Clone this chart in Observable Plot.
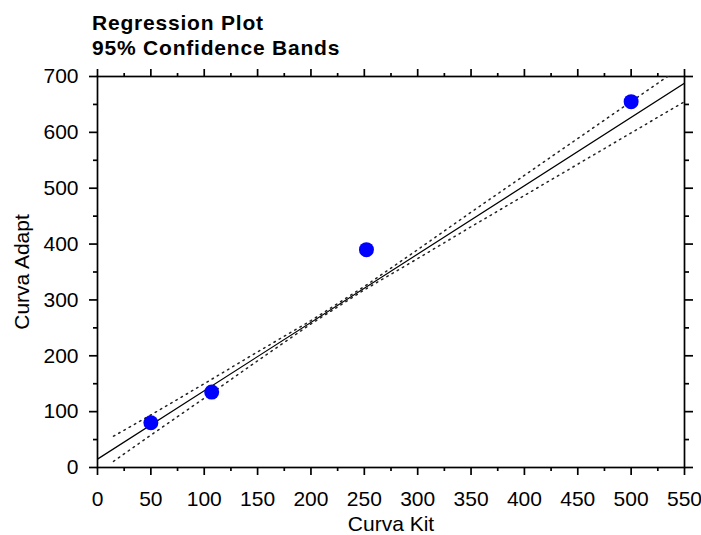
<!DOCTYPE html>
<html>
<head>
<meta charset="utf-8">
<script src="https://cdn.jsdelivr.net/npm/d3@7"></script>
<script src="https://cdn.jsdelivr.net/npm/@observablehq/plot@0.6"></script>
<style>
  html, body { margin: 0; padding: 0; background: #fff; }
  #title {
    box-sizing: border-box; height: 58px; padding: 10px 0 0 92px;
    font-family: "Liberation Sans", Arial, sans-serif; font-weight: bold;
    font-size: 21px; line-height: 25px; letter-spacing: 0.8px; color: #000;
  }
</style>
</head>
<body>
<div id="title">Regression Plot<br>95% Confidence Bands</div>
<div id="chart"></div>
<script>
// tick labels / tick positions
const xMajor = [0, 50, 100, 150, 200, 250, 300, 350, 400, 450, 500, 550];
const xMinor = [25, 75, 125, 175, 225, 275, 325, 375, 425, 475, 525];
const yMajor = [0, 100, 200, 300, 400, 500, 600, 700];
const yMinor = [50, 150, 250, 350, 450, 550, 650];

// observed points
const curvaKit = [50, 107, 252, 500];
const curvaAdapt = [80, 135, 390, 655];

// regression line (read endpoints)
const fitX = [0, 550];
const fitY = [15, 688];

// 95% confidence bands
const bandX = [15, 50, 100, 150, 200, 250, 300, 350, 400, 450, 500, 550];
const bandUpper = [56, 94, 150, 207, 263, 324, 390, 457, 523, 589, 655, 721];
const bandLower = [11, 58, 124, 191, 257, 318, 374, 431, 487, 543, 599, 655];

const points = curvaKit.map((k, i) => ({x: k, y: curvaAdapt[i]}));
const fit = fitX.map((k, i) => ({x: k, y: fitY[i]}));
const upper = bandX.map((k, i) => ({x: k, y: bandUpper[i]}));
const lower = bandX.map((k, i) => ({x: k, y: bandLower[i]}));

const blank = () => "";
const axisStyle = {stroke: "black", strokeWidth: 1.7, label: null};

const chart = Plot.plot({
  width: 701,
  height: 477,
  marginTop: 18,
  marginBottom: 68,
  marginLeft: 97,
  marginRight: 17,
  style: {fontFamily: "'Liberation Sans', Arial, sans-serif", fontSize: "21px", background: "white", color: "black"},
  x: {domain: [0, 550]},
  y: {domain: [0, 700]},
  marks: [
    Plot.frame({stroke: "black", strokeWidth: 1.7}),
    Plot.axisX({...axisStyle, anchor: "bottom", ticks: xMajor, tickSize: 8, tickPadding: 16, fontSize: 21, tickFormat: d => String(d)}),
    Plot.axisX({...axisStyle, anchor: "bottom", ticks: xMinor, tickSize: 4, tickFormat: blank}),
    Plot.axisX({...axisStyle, anchor: "top", ticks: xMajor, tickSize: 8, tickFormat: blank}),
    Plot.axisX({...axisStyle, anchor: "top", ticks: xMinor, tickSize: 4, tickFormat: blank}),
    Plot.axisY({...axisStyle, anchor: "left", ticks: yMajor, tickSize: 8, tickPadding: 11, fontSize: 21, tickFormat: d => String(d)}),
    Plot.axisY({...axisStyle, anchor: "left", ticks: yMinor, tickSize: 4, tickFormat: blank}),
    Plot.axisY({...axisStyle, anchor: "right", ticks: yMajor, tickSize: 8, tickFormat: blank}),
    Plot.axisY({...axisStyle, anchor: "right", ticks: yMinor, tickSize: 4, tickFormat: blank}),
    Plot.text(["Curva Kit"], {frameAnchor: "bottom", textAnchor: "middle", lineAnchor: "middle", dy: 57, text: d => d, fontSize: 21, fill: "black"}),
    Plot.text(["Curva Adapt"], {frameAnchor: "left", textAnchor: "middle", lineAnchor: "middle", dx: -75, rotate: -90, text: d => d, fontSize: 21, fill: "black"}),
    Plot.line(upper, {x: "x", y: "y", stroke: "#222", strokeWidth: 1.5, strokeDasharray: "1.5,4.5", clip: true}),
    Plot.line(lower, {x: "x", y: "y", stroke: "#222", strokeWidth: 1.5, strokeDasharray: "1.5,4.5", clip: true}),
    Plot.line(fit, {x: "x", y: "y", stroke: "black", strokeWidth: 1.2, clip: true}),
    Plot.dot(points, {x: "x", y: "y", r: 7.5, fill: "#0000ff", stroke: "none"})
  ]
});
document.getElementById("chart").appendChild(chart);
</script>
</body>
</html>
